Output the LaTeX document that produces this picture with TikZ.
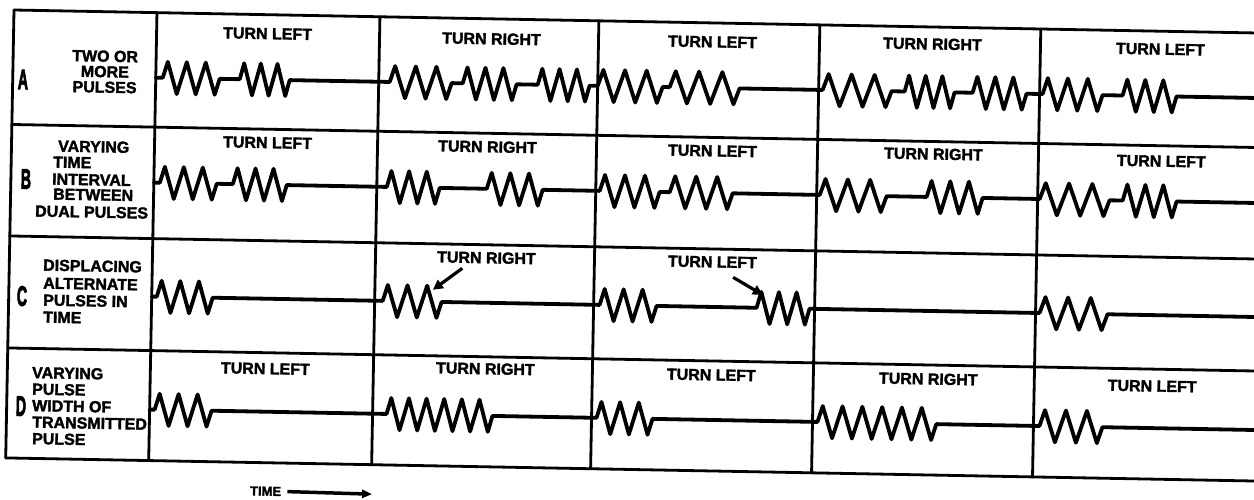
\documentclass[tikz,border=0pt]{standalone}
\usepackage{fontspec}
\setmainfont{Liberation Sans}[BoldFeatures={FakeBold=2}]
\newfontfamily\heavyfont{Liberation Sans}[BoldFeatures={FakeBold=4}]
\usetikzlibrary{decorations.pathmorphing,arrows.meta}
\begin{document}
\begin{tikzpicture}[x=1pt,y=1pt,
  grid/.style={line width=2.8pt,line cap=round},
  sig/.style={line width=3.8pt,line cap=round,line join=round},
  zg/.style={decoration={zigzag,amplitude=16pt,segment length=#1}},
  lab/.style={font=\fontsize{16}{16}\selectfont\bfseries,inner sep=0pt,transform shape},
  side/.style={lab,anchor=west},
  letter/.style={font=\heavyfont\fontsize{28}{28}\selectfont\bfseries,inner sep=0pt,xscale=0.5,transform shape},
  pointer/.style={line width=3.2pt,-{Triangle[length=10pt,width=10pt]}}]
\fill[white] (0,0) rectangle (1254,-499);
\useasboundingbox (0,0) rectangle (1254,-499);
\clip (0,0) rectangle (1254,-499);
\begin{scope}[shift={(14,-10)},rotate=-1.06]
% grid
\foreach \v in {0,114.5,226,338,448} \draw[grid] (0,-\v) -- (1270,-\v);
\foreach \u in {0,143,366,585,806,1027} \draw[grid] (\u,0) -- (\u,-448);
% row A signal
\draw[sig] (143,-65) -- (150,-65)
  decorate[zg=18.98pt]{(150,-65) -- (207,-65)} -- (227,-65)
  decorate[zg=16.65pt]{(227,-65) -- (277,-65)} -- (377,-65)
  decorate[zg=20.65pt]{(377,-65) -- (439,-65)} -- (450,-65)
  decorate[zg=17.98pt]{(450,-65) -- (504,-65)} -- (525,-65)
  decorate[zg=17.31pt]{(525,-65) -- (577,-65)} -- (585,-65)
  decorate[zg=21.65pt]{(585,-65) -- (650,-65)} -- (657,-65)
  decorate[zg=23.31pt]{(657,-65) -- (727,-65)} -- (810,-65)
  decorate[zg=22.98pt]{(810,-65) -- (879,-65)} -- (892,-65)
  decorate[zg=16.65pt]{(892,-65) -- (942,-65)} -- (960,-65)
  decorate[zg=17.98pt]{(960,-65) -- (1014,-65)} -- (1030,-65)
  decorate[zg=19.98pt]{(1030,-65) -- (1090,-65)} -- (1110,-65)
  decorate[zg=17.98pt]{(1110,-65) -- (1164,-65)} -- (1270,-65);
% row B signal
\draw[sig] (143,-170) -- (149,-170)
  decorate[zg=18.98pt]{(149,-170) -- (206,-170)} -- (222,-170)
  decorate[zg=17.98pt]{(222,-170) -- (276,-170)} -- (376,-170)
  decorate[zg=17.65pt]{(376,-170) -- (429,-170)} -- (476,-170)
  decorate[zg=18.65pt]{(476,-170) -- (532,-170)} -- (589,-170)
  decorate[zg=19.98pt]{(589,-170) -- (649,-170)} -- (659,-170)
  decorate[zg=20.98pt]{(659,-170) -- (722,-170)} -- (809,-170)
  decorate[zg=22.31pt]{(809,-170) -- (876,-170)} -- (916,-170)
  decorate[zg=18.65pt]{(916,-170) -- (972,-170)} -- (1029,-170)
  decorate[zg=23.31pt]{(1029,-170) -- (1099,-170)} -- (1112,-170)
  decorate[zg=17.98pt]{(1112,-170) -- (1166,-170)} -- (1270,-170);
% row C signal
\draw[sig] (143,-284) -- (148,-284)
  decorate[zg=18.65pt]{(148,-284) -- (204,-284)} -- (374,-284)
  decorate[zg=19.65pt]{(374,-284) -- (433,-284)} -- (591,-284)
  decorate[zg=18.98pt]{(591,-284) -- (648,-284)} -- (748,-284)
  decorate[zg=17.65pt]{(748,-284) -- (801,-284)} -- (1031,-284)
  decorate[zg=22.65pt]{(1031,-284) -- (1099,-284)} -- (1270,-284);
% row D signal
\draw[sig] (143,-397) -- (148,-397)
  decorate[zg=18.98pt]{(148,-397) -- (205,-397)} -- (380,-397)
  decorate[zg=17.65pt]{(380,-397) -- (486,-397)} -- (590,-397)
  decorate[zg=18.65pt]{(590,-397) -- (646,-397)} -- (811,-397)
  decorate[zg=19.81pt]{(811,-397) -- (930,-397)} -- (1033,-397)
  decorate[zg=20.98pt]{(1033,-397) -- (1096,-397)} -- (1270,-397);
% row letters
\node[letter] (la) at (10.3,-69.3) {A};
\node[letter] (lb) at (15.1,-168.8) {B};
\node[letter] (lc) at (13.3,-285.9) {C};
\node[letter] (ld) at (14.3,-395.9) {D};
% side labels
\node[lab,align=center,font=\fontsize{16}{15.5}\selectfont\bfseries] (sa) at (92,-60) {TWO OR\\MORE\\PULSES};
\node[side] (sb1) at (46.5,-135.2) {VARYING};
\node[side] (sb2) at (41.8,-151.3) {TIME};
\node[side] (sb3) at (41.1,-168.3) {INTERVAL};
\node[side] (sb4) at (42.4,-183.3) {BETWEEN};
\node[side] (sb5) at (24.7,-200.6) {DUAL PULSES};
\node[side] (sc1) at (33.7,-254.5) {DISPLACING};
\node[side] (sc2) at (34.1,-272.5) {ALTERNATE};
\node[side] (sc3) at (34.4,-289.5) {PULSES IN};
\node[side] (sc4) at (34.7,-306.5) {TIME};
\node[side] (sd1) at (24.7,-362.2) {VARYING};
\node[side] (sd2) at (25.0,-378.7) {PULSE};
\node[side] (sd3) at (25.3,-395.2) {WIDTH OF};
\node[side] (sd4) at (25.7,-411.7) {TRANSMITTED};
\node[side] (sd5) at (25.9,-428.2) {PULSE};
% cell labels
\node[lab] (a1) at (254,-19) {TURN LEFT};
\node[lab] (a2) at (478,-20) {TURN RIGHT};
\node[lab] (a3) at (699,-19) {TURN LEFT};
\node[lab] (a4) at (919,-17) {TURN RIGHT};
\node[lab] (a5) at (1147,-18) {TURN LEFT};
\node[lab] (b1) at (256,-128) {TURN LEFT};
\node[lab] (b2) at (476,-128) {TURN RIGHT};
\node[lab] (b3) at (701,-128) {TURN LEFT};
\node[lab] (b4) at (922,-127) {TURN RIGHT};
\node[lab] (b5) at (1150,-130) {TURN LEFT};
\node[lab] (c2) at (477,-239) {TURN RIGHT};
\node[lab] (c3) at (703,-239) {TURN LEFT};
\node[lab] (d1) at (258,-354) {TURN LEFT};
\node[lab] (d2) at (478,-350) {TURN RIGHT};
\node[lab] (d3) at (704,-352) {TURN LEFT};
\node[lab] (d4) at (921,-352) {TURN RIGHT};
\node[lab] (d5) at (1145,-355) {TURN LEFT};
% pointers in row C
\coordinate (c2s) at (453,-250);
\coordinate (c2e) at (424,-272);
\coordinate (c3s) at (724,-254);
\coordinate (c3e) at (754,-271);
\draw[pointer] (c2s) -- (c2e);
\draw[pointer] (c3s) -- (c3e);
% time arrow
\node[inner sep=0pt,font=\fontsize{13}{13}\selectfont\bfseries,transform shape] (time) at (260.5,-476.5) {TIME};
\coordinate (tend) at (367,-477.5);
\draw[line width=3.5pt,-{Triangle[length=10pt,width=8pt]}] ([xshift=6pt]time.east) -- (tend);
\end{scope}
\end{tikzpicture}
\end{document}
